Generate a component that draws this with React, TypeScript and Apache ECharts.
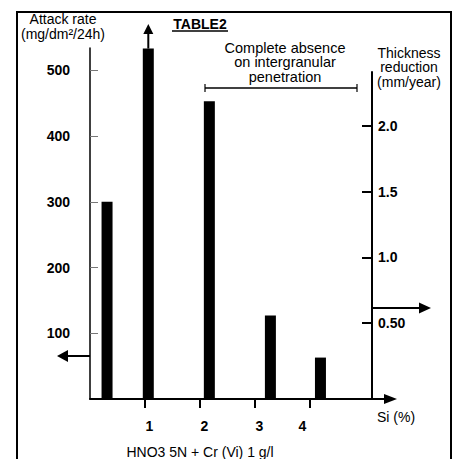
import React, { useEffect, useRef } from 'react';
import * as echarts from 'echarts';

// ---- data ----
const siPositions = [0.31, 1.06, 2.17, 3.28, 4.19];
const attackRates = [300, 533, 453, 127, 63];
const xTickValues = [1, 2, 3, 4];
const leftTickValues = [100, 200, 300, 400, 500];
const rightTickValues = [0.5, 1.0, 1.5, 2.0];
const rightTickLabels = ['0.50', '1.0', '1.5', '2.0'];
const leftTitle = 'Attack rate\n(mg/dm²/24h)';
const rightTitle = 'Thickness\nreduction\n(mm/year)';
const noteText = 'Complete absence\non intergranular\npenetration';
const chartTitle = 'TABLE2';
const xName = 'Si (%)';
const footer = 'HNO3 5N + Cr (Vi) 1 g/l';

// ---- layout ----
const FONT = 'Liberation Sans, Arial, Helvetica, sans-serif';
const G_LEFT = 90;
const G_TOP = 48;
const BASE = 399;
const X_END = 388;
const PX_PER_X = 55;
const PX_PER_100 = 65.75;
const R_TOP = 72;
const R_X = 372;
const R_PX_PER_UNIT = 131.33;
const R_ZERO = 388.67;

const tri = (tip: number[], dir: 'up' | 'left' | 'right', len: number, half: number) => {
  const [x, y] = tip;
  if (dir === 'up') return [[x, y], [x - half, y + len], [x + half, y + len]];
  if (dir === 'left') return [[x, y], [x + len, y - half], [x + len, y + half]];
  return [[x, y], [x - len, y - half], [x - len, y + half]];
};

export default function App() {
  const ref = useRef<HTMLDivElement>(null);
  useEffect(() => {
    if (!ref.current) return;
    const chart = echarts.init(ref.current, undefined, { renderer: 'svg' });
    const leftMax = ((BASE - G_TOP) / PX_PER_100) * 100;
    const xMax = (X_END - G_LEFT) / PX_PER_X;
    const rMin = -(BASE - R_ZERO) / R_PX_PER_UNIT;
    const rMax = (R_ZERO - R_TOP) / R_PX_PER_UNIT;
    const lbl = { fontFamily: FONT, fontSize: 14, color: '#000' };

    const arrowX = G_LEFT + siPositions[1] * PX_PER_X;
    const arrowY = BASE - (attackRates[1] / 100) * PX_PER_100;
    const lineStyle = { stroke: '#000', lineWidth: 2 };
    const txt = { fontFamily: FONT, fontSize: 14, fill: '#000' };

    chart.setOption({
      animation: false,
      backgroundColor: '#fff',
      grid: [
        { left: G_LEFT, top: G_TOP, width: X_END - G_LEFT, height: BASE - G_TOP },
        { left: G_LEFT, top: R_TOP, width: R_X - G_LEFT, height: BASE - R_TOP },
      ],
      xAxis: [
        {
          type: 'value', gridIndex: 0, min: 0, max: xMax,
          axisLine: { show: true, onZero: false, lineStyle: { color: '#000', width: 2 } },
          axisTick: { show: true, length: 9, lineStyle: { color: '#000', width: 2 }, customValues: xTickValues },
          axisLabel: {
            show: true, margin: 20, customValues: xTickValues,
            formatter: (v: number) => (v === 4 ? `{l|${v}}` : `{r|${v}}`),
            rich: {
              r: { ...lbl, fontWeight: 'bold', padding: [0, 0, 0, 9] },
              l: { ...lbl, fontWeight: 'bold', padding: [0, 15, 0, 0] },
            },
          },
          splitLine: { show: false },
        },
        {
          type: 'value', gridIndex: 1, min: 0, max: 1,
          axisLine: { show: false }, axisTick: { show: false }, axisLabel: { show: false }, splitLine: { show: false },
        },
      ],
      yAxis: [
        {
          type: 'value', gridIndex: 0, min: 0, max: leftMax, interval: 100,
          axisLine: { show: true, onZero: false, lineStyle: { color: '#000', width: 1.5 } },
          axisTick: { show: true, inside: true, length: 8, lineStyle: { color: '#777', width: 1 }, customValues: leftTickValues },
          axisLabel: { ...lbl, fontWeight: 'bold', margin: 20, customValues: leftTickValues },
          splitLine: { show: false },
        },
        {
          type: 'value', gridIndex: 1, position: 'right', min: rMin, max: rMax,
          axisLine: { show: true, onZero: false, lineStyle: { color: '#000', width: 2 } },
          axisTick: { show: true, inside: true, length: 10, lineStyle: { color: '#000', width: 2 }, customValues: rightTickValues },
          axisLabel: {
            ...lbl, fontWeight: 'bold', margin: 6, customValues: rightTickValues,
            formatter: (v: number) => rightTickLabels[rightTickValues.indexOf(v)] ?? '',
          },
          splitLine: { show: false },
        },
      ],
      series: [
        {
          type: 'bar', xAxisIndex: 0, yAxisIndex: 0, barWidth: 11,
          itemStyle: { color: '#000' },
          data: siPositions.map((x, i) => [x, attackRates[i]]),
        },
      ],
      graphic: [
        // up arrow on tallest bar
        { type: 'line', shape: { x1: arrowX, y1: arrowY, x2: arrowX, y2: 33 }, style: lineStyle },
        { type: 'polygon', shape: { points: tri([arrowX, 24], 'up', 10, 5) }, style: { fill: '#000' } },
        // left arrow
        { type: 'line', shape: { x1: G_LEFT, y1: 356, x2: 67, y2: 356 }, style: lineStyle },
        { type: 'polygon', shape: { points: tri([57, 356], 'left', 11, 6) }, style: { fill: '#000' } },
        // right arrow
        { type: 'line', shape: { x1: R_X, y1: 308, x2: 421, y2: 308 }, style: lineStyle },
        { type: 'polygon', shape: { points: tri([431, 308], 'right', 12, 5.5) }, style: { fill: '#000' } },
        // x axis arrow
        { type: 'polygon', shape: { points: tri([397, BASE], 'right', 13, 5) }, style: { fill: '#000' } },
        // bracket
        { type: 'line', shape: { x1: 205, y1: 88, x2: 357, y2: 88 }, style: { stroke: '#000', lineWidth: 1.5 } },
        { type: 'line', shape: { x1: 205, y1: 84, x2: 205, y2: 92 }, style: { stroke: '#000', lineWidth: 1.2 } },
        { type: 'line', shape: { x1: 357, y1: 84, x2: 357, y2: 92 }, style: { stroke: '#000', lineWidth: 1.2 } },
        // texts
        { type: 'text', x: 63, y: 11, style: { ...txt, text: leftTitle, align: 'center', verticalAlign: 'top', lineHeight: 15 } },
        { type: 'text', x: 200, y: 24, style: { ...txt, text: chartTitle, fontWeight: 'bold', align: 'center', verticalAlign: 'middle' } },
        { type: 'line', shape: { x1: 172, y1: 31, x2: 228, y2: 31 }, style: { stroke: '#000', lineWidth: 1.5 } },
        { type: 'text', x: 285, y: 40.5, style: { ...txt, fontSize: 14.5, text: noteText, align: 'center', verticalAlign: 'top', lineHeight: 14.5 } },
        { type: 'text', x: 409, y: 45.5, style: { ...txt, text: rightTitle, align: 'center', verticalAlign: 'top', lineHeight: 14.5 } },
        { type: 'text', x: 377, y: 417, style: { ...txt, text: xName, align: 'left', verticalAlign: 'middle' } },
        { type: 'text', x: 200, y: 451.5, style: { ...txt, text: footer, align: 'center', verticalAlign: 'middle' } },
      ],
    });

    return () => chart.dispose();
  }, []);
  return (
    <div style={{ position: 'absolute', left: 0, top: 0, width: 455, height: 459, overflow: 'hidden', background: '#fff' }}>
      <div ref={ref} style={{ position: 'absolute', left: 0, top: 0, width: 455, height: 459 }} />
      <div
        style={{
          position: 'absolute', left: 16, top: 11, width: 436, height: 448, boxSizing: 'border-box',
          borderLeft: '2px solid #000', borderTop: '2px solid #000', borderRight: '2px solid #000',
          pointerEvents: 'none', zIndex: 5,
        }}
      />
    </div>
  );
}
